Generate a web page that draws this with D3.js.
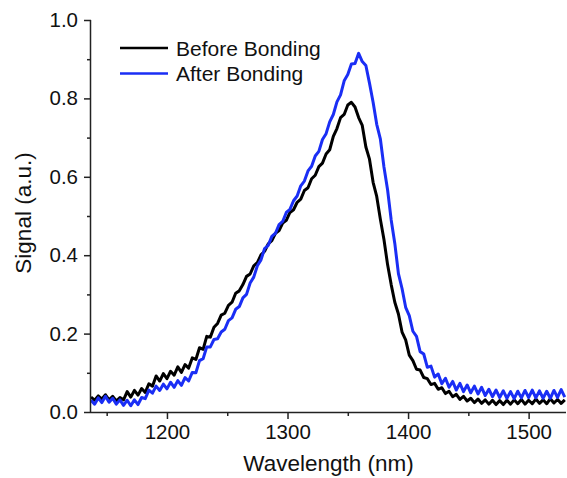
<!DOCTYPE html>
<html>
<head>
<meta charset="utf-8">
<script src="https://cdn.jsdelivr.net/npm/d3@7"></script>
<style>
  html, body { margin: 0; padding: 0; background: #fff; }
  svg { display: block; font-family: "Liberation Sans", Arial, sans-serif; }
</style>
</head>
<body>
<svg id="chart" width="567" height="478"></svg>
<script>
const wavelengths = [1137,1140,1143,1146,1149,1152,1155,1158,1161,1164,1167,1170,1173,1176,1179,1182,1185,1188,1191,1194,1197,1200,1203,1206,1209,1212,1215,1218,1221,1224,1227,1230,1233,1236,1239,1242,1245,1248,1251,1254,1257,1260,1263,1266,1269,1272,1275,1278,1281,1284,1287,1290,1293,1296,1299,1302,1305,1308,1311,1314,1317,1320,1323,1326,1329,1332,1335,1338,1341,1344,1347,1350,1353,1356,1359,1362,1365,1368,1371,1374,1377,1380,1383,1386,1389,1392,1395,1398,1401,1404,1407,1410,1413,1416,1419,1422,1425,1428,1431,1434,1437,1440,1443,1446,1449,1452,1455,1458,1461,1464,1467,1470,1473,1476,1479,1482,1485,1488,1491,1494,1497,1500,1503,1506,1509,1512,1515,1518,1521,1524,1527,1530];

const beforeBonding = [0.038,0.030,0.041,0.033,0.044,0.031,0.040,0.028,0.037,0.031,0.052,0.038,0.055,0.043,0.060,0.050,0.072,0.066,0.092,0.079,0.098,0.085,0.104,0.094,0.115,0.101,0.121,0.112,0.138,0.134,0.164,0.160,0.193,0.191,0.216,0.226,0.247,0.252,0.272,0.280,0.303,0.309,0.325,0.346,0.352,0.373,0.381,0.401,0.410,0.429,0.437,0.456,0.463,0.482,0.489,0.509,0.516,0.535,0.543,0.565,0.572,0.595,0.604,0.626,0.635,0.658,0.669,0.703,0.723,0.751,0.759,0.783,0.790,0.778,0.751,0.731,0.676,0.645,0.586,0.550,0.492,0.440,0.376,0.325,0.280,0.250,0.204,0.184,0.145,0.131,0.109,0.107,0.088,0.085,0.070,0.073,0.058,0.062,0.047,0.053,0.039,0.045,0.032,0.040,0.028,0.035,0.024,0.033,0.022,0.031,0.020,0.030,0.019,0.029,0.019,0.030,0.020,0.031,0.021,0.032,0.020,0.030,0.021,0.033,0.022,0.031,0.021,0.034,0.023,0.032,0.022,0.031];

const afterBonding = [0.030,0.020,0.036,0.024,0.040,0.025,0.035,0.020,0.031,0.017,0.030,0.016,0.031,0.019,0.037,0.034,0.056,0.048,0.066,0.055,0.071,0.059,0.076,0.063,0.080,0.068,0.088,0.079,0.101,0.100,0.131,0.136,0.166,0.166,0.185,0.187,0.204,0.211,0.233,0.240,0.262,0.269,0.291,0.300,0.329,0.344,0.373,0.388,0.417,0.425,0.448,0.456,0.478,0.486,0.509,0.517,0.539,0.551,0.577,0.589,0.615,0.627,0.653,0.665,0.695,0.710,0.740,0.759,0.791,0.809,0.845,0.861,0.888,0.889,0.915,0.894,0.884,0.839,0.790,0.734,0.697,0.625,0.567,0.490,0.430,0.353,0.315,0.267,0.246,0.206,0.193,0.154,0.148,0.114,0.117,0.089,0.097,0.072,0.086,0.063,0.078,0.056,0.073,0.052,0.069,0.049,0.066,0.046,0.063,0.042,0.058,0.039,0.056,0.037,0.054,0.035,0.052,0.034,0.053,0.036,0.055,0.037,0.056,0.036,0.054,0.035,0.053,0.035,0.055,0.037,0.057,0.038];

const seriesNames = ["Before Bonding", "After Bonding"];
const seriesColors = ["#000000", "#1a2ef5"];
const xTicks = [1200, 1300, 1400, 1500];
const xMinorTicks = [1150, 1250, 1350, 1450];
const yTicks = [0.0, 0.2, 0.4, 0.6, 0.8, 1.0];
const yMinorTicks = [0.1, 0.3, 0.5, 0.7, 0.9];
const xTitle = "Wavelength (nm)";
const yTitle = "Signal (a.u.)";

const svg = d3.select("#chart");
const mLeft = 91, mRight = 566, mTop = 20, mBottom = 412;

const x = d3.scaleLinear().domain([1137, 1531]).range([mLeft, mRight]);
const y = d3.scaleLinear().domain([0, 1]).range([mBottom, mTop]);

svg.append("defs").append("clipPath").attr("id", "clip")
  .append("rect").attr("x", mLeft).attr("y", 0).attr("width", mRight - mLeft).attr("height", mBottom);

const series = [beforeBonding, afterBonding].map((vals, i) => ({
  name: seriesNames[i], color: seriesColors[i],
  points: wavelengths.map((w, j) => [w, vals[j]])
}));

const line = d3.line().x(d => x(d[0])).y(d => y(d[1]));

svg.append("g").attr("clip-path", "url(#clip)")
  .selectAll("path").data(series).join("path")
  .attr("d", d => line(d.points))
  .attr("fill", "none")
  .attr("stroke", d => d.color)
  .attr("stroke-width", 3)
  .attr("stroke-linejoin", "round");

// axes
const axisColor = "#222";
const fs = 20.5;

const xAxis = svg.append("g").attr("transform", `translate(0,${mBottom})`)
  .call(d3.axisBottom(x).tickValues(xTicks).tickSize(7).tickPadding(5).tickFormat(d3.format("d")));
const xMinor = svg.append("g").attr("transform", `translate(0,${mBottom})`)
  .call(d3.axisBottom(x).tickValues(xMinorTicks).tickSize(4).tickFormat(""));
const yAxis = svg.append("g").attr("transform", `translate(${mLeft},0)`)
  .call(d3.axisLeft(y).tickValues(yTicks).tickSize(7).tickPadding(6).tickFormat(d3.format(".1f")));
const yMinor = svg.append("g").attr("transform", `translate(${mLeft},0)`)
  .call(d3.axisLeft(y).tickValues(yMinorTicks).tickSize(4).tickFormat(""));

[xAxis, xMinor, yAxis, yMinor].forEach(g => {
  g.select(".domain").attr("stroke", axisColor).attr("stroke-width", 1.5);
  g.selectAll(".tick line").attr("stroke", axisColor).attr("stroke-width", 1.5);
  g.selectAll(".tick text").attr("fill", "#111").style("font-size", fs + "px")
    .style("font-family", "'Liberation Sans', Arial, sans-serif");
});
xAxis.select(".domain").attr("d", `M${mLeft},0.5H${mRight}`);
xMinor.select(".domain").remove();
yAxis.select(".domain").attr("d", `M-0.5,${mBottom}V${mTop}`);
yMinor.select(".domain").remove();

// axis titles
svg.append("text").attr("x", (mLeft + mRight) / 2).attr("y", 471)
  .attr("text-anchor", "middle").attr("fill", "#111")
  .style("font-size", "22.5px").text(xTitle);
svg.append("text").attr("transform", `translate(31,${(mTop + mBottom) / 2 - 3}) rotate(-90)`)
  .attr("text-anchor", "middle").attr("fill", "#111")
  .style("font-size", "22.5px").text(yTitle);

// legend
const legend = svg.append("g");
series.forEach((s, i) => {
  const ly = 48 + i * 25.5;
  legend.append("line").attr("x1", 120).attr("x2", 168).attr("y1", ly).attr("y2", ly)
    .attr("stroke", s.color).attr("stroke-width", 2.6);
  legend.append("text").attr("x", 176).attr("y", ly).attr("dy", "0.36em")
    .attr("fill", "#111").style("font-size", "21px").text(s.name);
});
</script>
</body>
</html>
